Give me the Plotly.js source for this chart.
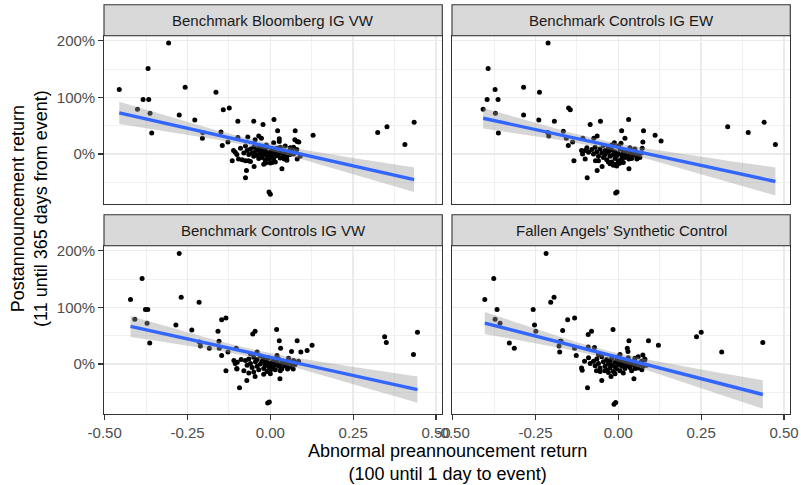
<!DOCTYPE html>
<html>
<head>
<meta charset="utf-8">
<script src="https://cdn.plot.ly/plotly-3.0.1.min.js"></script>
<style>html,body{margin:0;padding:0;background:#fff;}#chart{width:801px;height:485px;}</style>
</head>
<body>
<div id="chart"></div>
<script>
// ---- data ----
const panelTitles = ["Benchmark Bloomberg IG VW", "Benchmark Controls IG EW", "Benchmark Controls IG VW", "Fallen Angels' Synthetic Control"];
const xTickVals = [-0.5, -0.25, 0, 0.25, 0.5];
const xTickText = ["-0.50", "-0.25", "0.00", "0.25", "0.50"];
const yTickVals = [0, 1, 2];
const yTickText = ["0%", "100%", "200%"];

const bloombergIgVw = [
[-0.456,1.14],[-0.307,1.96],[-0.369,1.51],[-0.257,1.18],[-0.384,0.96],[-0.367,0.96],[-0.401,0.79],[-0.363,0.72],[-0.358,0.37],[-0.275,0.69],[-0.228,0.60],[-0.164,1.09],[-0.142,0.78],[-0.124,0.81],[-0.204,0.38],[-0.205,0.28],[-0.149,0.39],[-0.145,0.15],[-0.128,0.21],[-0.098,0.58],[-0.050,0.58],[-0.022,0.52],[0.011,0.61],[0.022,0.41],[0.075,0.41],[0.129,0.33],[0.324,0.38],[0.352,0.48],[0.434,0.56],[0.406,0.17],[0.074,0.25],[0.081,0.22],[0.086,0.21],[0.081,-0.09],[0.035,-0.26],[-0.049,-0.22],[-0.072,-0.29],[-0.075,-0.42],[-0.004,-0.67],[0.000,-0.71],[-0.115,-0.12],[-0.096,-0.09],[-0.075,-0.12],[-0.066,-0.12],[-0.014,-0.16],[0.005,-0.15],[0.027,0.27],[0.027,0.22],[0.070,0.12],[0.065,0.09],[0.049,-0.09],[0.042,-0.09],
[-0.098,0.29],[-0.068,0.30],[-0.035,0.32],[-0.027,0.28],[-0.046,0.25],[-0.111,0.06],[-0.106,0.03],[-0.101,-0.01],
[-0.07,0.06],[-0.065,-0.01],[-0.06,0.09],[-0.055,0.02],[-0.05,-0.04],[-0.05,0.12],[-0.045,0.04],[-0.04,-0.02],[-0.04,0.08],[-0.035,-0.08],[-0.035,0.14],[-0.03,0.01],[-0.03,0.06],[-0.025,-0.06],[-0.025,0.10],[-0.02,-0.01],[-0.02,0.04],[-0.015,-0.11],[-0.015,0.07],[-0.01,-0.04],[-0.01,0.02],[-0.01,0.12],[-0.005,-0.01],[-0.005,-0.09],[0.00,0.04],[0.00,-0.06],[0.005,0.08],[0.005,-0.02],[0.01,0.01],[0.01,-0.08],[0.015,0.05],[0.02,-0.03],[0.02,0.10],[0.025,0.00],[0.03,0.03],[0.03,-0.07],[0.035,0.06],[0.04,-0.02],[0.045,0.02],[0.05,-0.05],[0.055,0.04],[0.06,-0.01],[0.065,0.07],[0.07,0.00],[0.01,0.20],[0.03,0.12],[-0.06,-0.13],[-0.085,-0.10],[0.00,-0.16],[-0.02,-0.18],[0.05,-0.11],[0.06,0.11],[-0.08,0.02],[-0.09,0.10],[-0.075,0.14],[0.045,0.14],[0.08,0.08],[0.09,-0.04],[-0.012,0.16],[0.015,-0.14]
];

const controlsIgEw = [
[-0.408,0.79],[-0.393,1.51],[-0.372,1.14],[-0.396,0.96],[-0.363,0.96],[-0.371,0.72],[-0.362,0.37],[-0.212,1.96],[-0.286,1.18],[-0.238,1.09],[-0.286,0.69],[-0.240,0.60],[-0.193,0.58],[-0.150,0.81],[-0.145,0.78],[-0.213,0.38],[-0.210,0.32],[-0.166,0.40],[-0.157,0.28],[-0.151,0.15],[-0.138,0.21],[-0.085,0.52],[-0.054,0.58],[0.031,0.61],[0.010,0.41],[0.020,0.28],[0.076,0.41],[0.111,0.33],[0.129,0.23],[0.074,0.21],[0.072,0.10],[0.330,0.48],[0.392,0.38],[0.440,0.56],[0.474,0.17],[-0.134,-0.12],[-0.100,-0.09],[-0.069,-0.12],[-0.064,-0.29],[-0.049,-0.22],[-0.094,-0.42],[-0.008,-0.69],[-0.004,-0.67],[0.032,-0.26],[0.032,-0.09],[0.056,-0.09],[0.059,-0.04],[-0.107,0.28],[-0.074,0.28],[-0.064,0.32],[-0.111,0.06],[-0.108,0.00],
[-0.08,0.08],[-0.075,0.00],[-0.07,0.12],[-0.065,0.04],[-0.06,-0.04],[-0.055,0.09],[-0.05,0.02],[-0.045,-0.06],[-0.04,0.06],[-0.04,-0.01],[-0.035,-0.10],[-0.03,0.11],[-0.03,0.03],[-0.025,-0.04],[-0.02,-0.14],[-0.02,0.07],[-0.015,-0.01],[-0.01,-0.18],[-0.01,0.04],[-0.01,-0.08],[-0.005,-0.03],[-0.005,-0.21],[0.00,0.01],[0.00,-0.12],[0.005,0.09],[0.005,-0.16],[0.01,-0.02],[0.01,-0.09],[0.015,0.04],[0.02,-0.06],[0.02,0.00],[0.025,0.06],[0.03,-0.03],[0.035,0.02],[0.04,-0.08],[0.045,-0.01],[0.05,0.04],[0.055,-0.04],[0.06,0.01],[0.065,-0.06],[-0.025,-0.17],[-0.015,-0.20],[0.00,-0.17],[-0.03,-0.14],[0.015,-0.15],[-0.045,0.15],[-0.02,0.16],[0.00,0.14],[-0.09,0.03],[-0.095,0.11],[0.035,0.11],[0.05,0.09],[-0.06,-0.12],[0.07,0.02],[-0.10,0.06],[0.04,0.07],[-0.012,0.20],[0.008,0.19]
];

const controlsIgVw = [
[-0.422,1.14],[-0.387,1.51],[-0.275,1.95],[-0.269,1.18],[-0.215,1.09],[-0.409,0.79],[-0.377,0.96],[-0.370,0.96],[-0.372,0.72],[-0.364,0.37],[-0.285,0.69],[-0.237,0.60],[-0.158,0.58],[-0.147,0.78],[-0.134,0.81],[-0.214,0.39],[-0.211,0.32],[-0.184,0.28],[-0.155,0.40],[-0.154,0.28],[-0.147,0.15],[-0.128,0.21],[-0.103,0.28],[-0.053,0.53],[-0.046,0.58],[0.019,0.61],[0.027,0.41],[0.031,0.28],[0.081,0.41],[0.111,0.24],[0.126,0.33],[0.092,0.21],[0.064,0.22],[0.345,0.48],[0.350,0.38],[0.444,0.56],[0.432,0.17],[-0.134,-0.12],[-0.101,-0.09],[-0.093,-0.42],[-0.071,-0.29],[-0.046,-0.22],[-0.008,-0.69],[-0.003,-0.67],[0.029,-0.26],[0.034,-0.09],[0.052,-0.09],[0.069,-0.09],[-0.110,0.06],[-0.106,0.01],[-0.101,-0.08],
[-0.075,0.06],[-0.07,-0.02],[-0.065,0.09],[-0.06,0.01],[-0.055,-0.06],[-0.05,0.12],[-0.045,0.04],[-0.04,-0.04],[-0.04,0.08],[-0.035,-0.10],[-0.03,0.14],[-0.03,0.00],[-0.025,0.05],[-0.02,-0.08],[-0.02,0.09],[-0.015,-0.02],[-0.015,0.03],[-0.01,-0.13],[-0.01,0.06],[-0.005,-0.05],[-0.005,0.01],[-0.005,0.11],[0.00,-0.02],[0.00,-0.11],[0.005,0.03],[0.005,-0.07],[0.01,0.07],[0.01,-0.03],[0.015,0.00],[0.015,-0.10],[0.02,0.04],[0.025,-0.04],[0.025,0.09],[0.03,-0.01],[0.035,0.02],[0.035,-0.08],[0.04,0.05],[0.045,-0.03],[0.05,0.01],[0.055,-0.06],[0.06,0.03],[0.065,-0.02],[0.07,0.06],[0.075,-0.01],[-0.08,-0.12],[-0.065,-0.16],[-0.02,-0.18],[0.00,-0.17],[-0.05,-0.14],[0.03,-0.12],[-0.088,0.08],[-0.06,0.18],[-0.04,0.21],[0.02,0.15],[0.055,0.10],[-0.10,0.03],[0.085,0.05]
];

const fallenAngelsSynth = [
[-0.403,1.14],[-0.376,1.51],[-0.218,1.95],[-0.204,1.09],[-0.194,1.18],[-0.366,0.96],[-0.372,0.79],[-0.357,0.72],[-0.329,0.37],[-0.314,0.28],[-0.257,0.96],[-0.253,0.69],[-0.249,0.58],[-0.153,0.78],[-0.132,0.81],[-0.168,0.59],[-0.176,0.40],[-0.173,0.40],[-0.179,0.32],[-0.177,0.21],[-0.132,0.28],[-0.127,0.15],[-0.091,0.52],[-0.081,0.58],[-0.016,0.61],[0.032,0.41],[0.091,0.41],[0.121,0.33],[0.027,0.28],[0.029,0.22],[0.074,0.16],[0.080,0.09],[0.236,0.48],[0.250,0.56],[0.312,0.21],[0.436,0.38],[-0.093,-0.42],[-0.109,-0.11],[-0.111,-0.07],[-0.102,0.05],[-0.050,-0.29],[-0.022,-0.22],[-0.013,-0.71],[-0.008,-0.68],[0.047,-0.26],[0.051,-0.08],[0.071,-0.10],[-0.066,-0.12],[-0.041,-0.12],[-0.091,0.30],[-0.072,0.29],
[-0.075,0.05],[-0.07,-0.03],[-0.065,0.09],[-0.06,0.01],[-0.055,-0.07],[-0.05,0.13],[-0.045,0.04],[-0.04,-0.04],[-0.035,0.08],[-0.035,-0.11],[-0.03,0.01],[-0.025,0.05],[-0.025,-0.07],[-0.02,0.10],[-0.02,-0.02],[-0.015,-0.13],[-0.01,0.03],[-0.01,-0.05],[-0.005,0.07],[-0.005,-0.09],[0.00,-0.01],[0.00,0.13],[0.005,0.03],[0.005,-0.12],[0.01,-0.04],[0.01,0.08],[0.015,0.00],[0.02,-0.08],[0.02,0.05],[0.025,-0.03],[0.03,0.02],[0.03,0.11],[0.035,-0.06],[0.04,-0.01],[0.045,0.05],[0.05,-0.04],[0.055,0.02],[0.06,-0.07],[0.065,-0.01],[0.07,0.05],[0.075,-0.04],[0.08,0.07],[-0.01,-0.17],[-0.03,-0.15],[0.015,-0.16],[-0.055,-0.13],[0.04,-0.12],[-0.085,0.01],[-0.06,0.17],[0.005,0.17],[0.05,0.10],[0.085,-0.02],[-0.09,0.11],[0.06,0.13]
];

const panelData = [bloombergIgVw, controlsIgEw, controlsIgVw, fallenAngelsSynth];

// ---- linear fit with 95% confidence band (like geom_smooth(method = "lm")) ----
function tQuant(df) {
  const z = 1.959964;
  return z + (z ** 3 + z) / (4 * df) + (5 * z ** 5 + 16 * z ** 3 + 3 * z) / (96 * df * df);
}
function lmSmooth(pts) {
  const n = pts.length;
  const xs = pts.map(p => p[0]), ys = pts.map(p => p[1]);
  const mx = xs.reduce((a, b) => a + b, 0) / n;
  const my = ys.reduce((a, b) => a + b, 0) / n;
  let sxx = 0, sxy = 0;
  for (let i = 0; i < n; i++) { sxx += (xs[i] - mx) ** 2; sxy += (xs[i] - mx) * (ys[i] - my); }
  const b = sxy / sxx, a = my - b * mx;
  let sse = 0;
  for (let i = 0; i < n; i++) sse += (ys[i] - a - b * xs[i]) ** 2;
  const s = Math.sqrt(sse / (n - 2));
  const t = tQuant(n - 2);
  const xmin = Math.min(...xs), xmax = Math.max(...xs);
  const gx = [], fit = [], lo = [], hi = [];
  const K = 80;
  for (let k = 0; k < K; k++) {
    const x = xmin + (xmax - xmin) * k / (K - 1);
    const f = a + b * x;
    const se = s * Math.sqrt(1 / n + (x - mx) ** 2 / sxx);
    gx.push(x); fit.push(f); lo.push(f - t * se); hi.push(f + t * se);
  }
  return { gx, fit, lo, hi };
}

// ---- geometry ----
const W = 801, H = 485;
const colX = [[104, 442.3], [452, 790.3]];
const rowY = [[35.7, 204], [245.7, 414]];
const stripY = [[4.7, 35.7], [214.7, 245.7]];
const xRange = [-0.502, 0.519];
const yRange = [-0.882, 2.088];
const font = "Liberation Sans, Arial, Helvetica, sans-serif";

const traces = [];
const layout = {
  width: W, height: H,
  margin: { l: 0, r: 0, t: 0, b: 0, pad: 0 },
  paper_bgcolor: "#ffffff", plot_bgcolor: "#ffffff",
  showlegend: false,
  font: { family: font, color: "#000000" },
  shapes: [], annotations: []
};

panelData.forEach((pts, i) => {
  const row = Math.floor(i / 2), col = i % 2;
  const sfx = i === 0 ? "" : String(i + 1);
  const xa = "x" + sfx, ya = "y" + sfx;
  const sm = lmSmooth(pts);

  traces.push({
    type: "scatter", mode: "markers", xaxis: xa, yaxis: ya,
    x: pts.map(p => p[0]), y: pts.map(p => p[1]),
    marker: { color: "#000000", size: 5, line: { width: 0 } }, hoverinfo: "skip"
  });
  traces.push({
    type: "scatter", mode: "lines", xaxis: xa, yaxis: ya,
    x: sm.gx.concat(sm.gx.slice().reverse()),
    y: sm.hi.concat(sm.lo.slice().reverse()),
    fill: "toself", fillcolor: "rgba(153,153,153,0.4)", line: { width: 0 }, hoverinfo: "skip"
  });
  traces.push({
    type: "scatter", mode: "lines", xaxis: xa, yaxis: ya,
    x: sm.gx, y: sm.fit, line: { color: "#3366FF", width: 3.4 }, hoverinfo: "skip"
  });

  const isBottom = row === 1, isLeft = col === 0;
  layout["xaxis" + sfx] = {
    anchor: ya, domain: [colX[col][0] / W, colX[col][1] / W], range: xRange,
    tickmode: "array", tickvals: xTickVals, ticktext: xTickText,
    showticklabels: isBottom, ticks: isBottom ? "outside" : "", ticklen: 4.7, tickwidth: 1.1, tickcolor: "#333333",
    tickfont: { size: 15, color: "#4D4D4D", family: font },
    showgrid: true, gridcolor: "#EBEBEB", gridwidth: 1.4, zeroline: false,
    minor: { tickvals: [-0.375, -0.125, 0.125, 0.375], showgrid: true, gridcolor: "#EBEBEB", gridwidth: 0.7, ticks: "" },
    showline: true, mirror: true, linecolor: "#333333", linewidth: 1.1, fixedrange: true
  };
  layout["yaxis" + sfx] = {
    anchor: xa, domain: [1 - rowY[row][1] / H, 1 - rowY[row][0] / H], range: yRange,
    tickmode: "array", tickvals: yTickVals, ticktext: yTickText,
    showticklabels: isLeft, ticks: isLeft ? "outside" : "", ticklen: 4.7, tickwidth: 1.1, tickcolor: "#333333",
    tickfont: { size: 15, color: "#4D4D4D", family: font },
    showgrid: true, gridcolor: "#EBEBEB", gridwidth: 1.4, zeroline: false,
    minor: { tickvals: [-0.5, 0.5, 1.5], showgrid: true, gridcolor: "#EBEBEB", gridwidth: 0.7, ticks: "" },
    showline: true, mirror: true, linecolor: "#333333", linewidth: 1.1, fixedrange: true
  };

  // facet strip
  layout.shapes.push({
    type: "rect", xref: "paper", yref: "paper",
    x0: colX[col][0] / W, x1: colX[col][1] / W,
    y0: 1 - stripY[row][1] / H, y1: 1 - stripY[row][0] / H,
    fillcolor: "#D9D9D9", line: { color: "#333333", width: 1.1 }
  });
  layout.annotations.push({
    xref: "paper", yref: "paper",
    x: (colX[col][0] + colX[col][1]) / 2 / W, y: 1 - (stripY[row][0] + stripY[row][1]) / 2 / H,
    xanchor: "center", yanchor: "middle", showarrow: false,
    text: panelTitles[i], font: { size: 15, color: "#1A1A1A", family: font }
  });
});

layout.annotations.push({
  xref: "paper", yref: "paper", x: 29 / W, y: 1 - 209 / H,
  xanchor: "center", yanchor: "middle", showarrow: false, textangle: -90,
  text: "Postannouncement return<br>(11 until 365 days from event)",
  font: { size: 18, color: "#000000", family: font }
});
layout.annotations.push({
  xref: "paper", yref: "paper", x: 447 / W, y: 1 - 462 / H,
  xanchor: "center", yanchor: "middle", showarrow: false,
  text: "Abnormal preannouncement return<br>(100 until 1 day to event)",
  font: { size: 18, color: "#000000", family: font }
});

Plotly.newPlot("chart", traces, layout, { staticPlot: true, displayModeBar: false });
</script>
</body>
</html>
